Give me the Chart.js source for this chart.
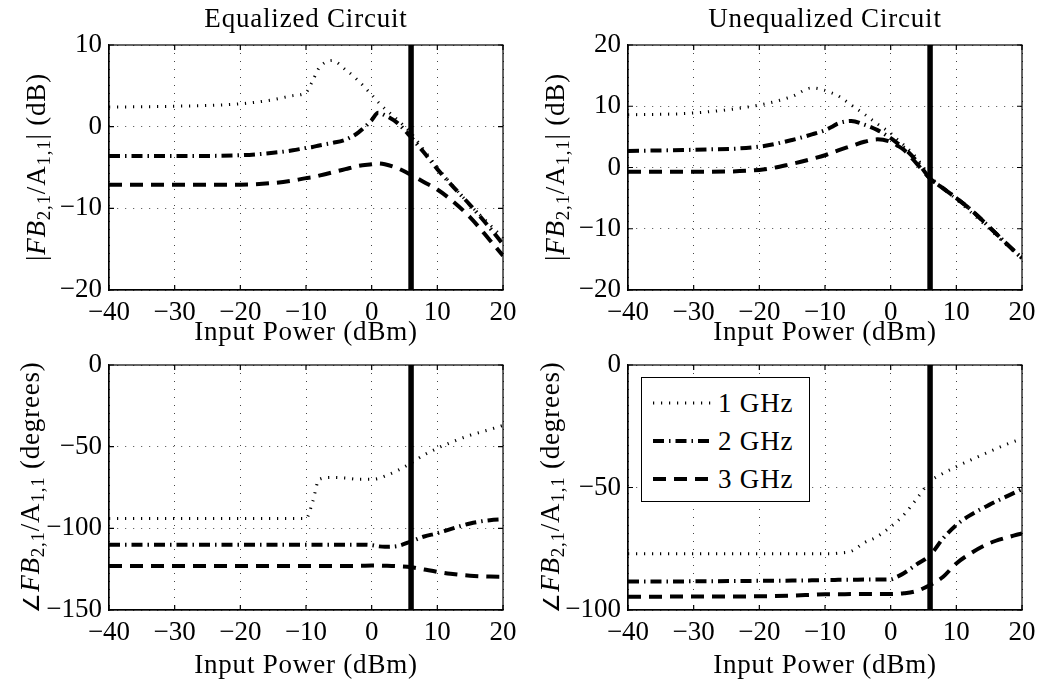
<!DOCTYPE html>
<html><head><meta charset="utf-8">
<script src="https://cdn.jsdelivr.net/npm/chart.js@4"></script>
<style>
html,body{margin:0;padding:0;background:#fff;overflow:hidden;width:1039px;height:679px;}
.t{position:absolute;font-family:"Liberation Serif",serif;font-size:27px;color:#000;white-space:nowrap;transform:translate(-50%,-50%);line-height:1;letter-spacing:0.8px;}
.yl{transform:translate(-50%,-50%) rotate(-90deg);}
.ang{font-size:0.8em;}
canvas.ch{position:absolute;}
sub{font-size:0.7em;vertical-align:-0.3em;line-height:0;}
#legend{position:absolute;left:641px;top:377px;width:169px;height:125px;border:1.5px solid #000;box-sizing:border-box;background:#fff;font-family:"Liberation Serif",serif;font-size:27px;}
.lrow{position:absolute;left:0;width:100%;height:30px;}
.lrow canvas{position:absolute;left:11px;top:9px;}
.lrow span{position:absolute;left:76px;top:0;line-height:30px;letter-spacing:0.8px;}
</style></head><body>
<canvas class="ch" id="c1"></canvas>
<canvas class="ch" id="c2"></canvas>
<canvas class="ch" id="c3"></canvas>
<canvas class="ch" id="c4"></canvas>
<div class="t" style="left:306px;top:18px">Equalized Circuit</div>
<div class="t" style="left:825px;top:18px">Unequalized Circuit</div>
<div class="t" style="left:306px;top:331px">Input Power (dBm)</div>
<div class="t" style="left:825px;top:331px">Input Power (dBm)</div>
<div class="t" style="left:306px;top:664px">Input Power (dBm)</div>
<div class="t" style="left:825px;top:664px">Input Power (dBm)</div>
<div class="t yl" style="left:36px;top:167px">|<i>FB</i><sub>2,1</sub>/A<sub>1,1</sub>| (dB)</div>
<div class="t yl" style="left:555px;top:167px">|<i>FB</i><sub>2,1</sub>/A<sub>1,1</sub>| (dB)</div>
<div class="t yl" style="left:30px;top:487px"><span class="ang">∠</span><i>FB</i><sub>2,1</sub>/A<sub>1,1</sub> (degrees)</div>
<div class="t yl" style="left:550px;top:487px"><span class="ang">∠</span><i>FB</i><sub>2,1</sub>/A<sub>1,1</sub> (degrees)</div>
<div id="legend"></div>
<script>
// ---- data ----
const powerIn = [-40,-30,-20,-15,-12,-10,-9,-8,-6,-4,-2,0,1,2,4,6,8,10,12,15,18,20];
const seriesLabels = ['1 GHz','2 GHz','3 GHz'];
const markerPower = 6;

// Equalized |FB21/A11| (dB)
const eqMag1 = [2.4,2.5,2.8,3.3,3.8,4.2,5.6,7.2,8.1,7.0,5.6,3.9,3.0,2.2,0.8,-0.8,-2.9,-5.0,-6.9,-9.6,-12.0,-13.6];
const eqMag2 = [-3.6,-3.6,-3.5,-3.2,-2.9,-2.6,-2.5,-2.3,-2.0,-1.6,-0.7,0.8,1.7,1.4,0.4,-1.3,-3.2,-5.2,-7.0,-9.6,-12.4,-14.4];
const eqMag3 = [-7.1,-7.1,-7.1,-6.9,-6.6,-6.3,-6.2,-6.0,-5.6,-5.2,-4.8,-4.6,-4.5,-4.6,-5.1,-5.9,-6.8,-7.7,-8.9,-11.1,-13.9,-15.8];
// Unequalized |FB21/A11| (dB)
const unMag1 = [8.6,8.9,10.2,11.6,13.0,12.6,12.2,11.7,10.2,8.7,7.1,5.6,4.6,3.7,1.5,-1.5,-3.4,-5.2,-7.1,-10.0,-13.0,-14.9];
const unMag2 = [2.7,2.9,3.4,4.5,5.4,6.1,6.6,7.2,7.6,7.0,6.1,4.8,4.0,3.2,1.0,-1.8,-3.4,-5.0,-6.7,-9.7,-12.8,-14.8];
const unMag3 = [-0.7,-0.7,-0.4,0.6,1.4,2.0,2.4,2.8,3.5,4.2,4.6,4.2,3.6,2.9,0.6,-1.8,-3.4,-5.0,-6.7,-9.7,-12.8,-14.8];
// Equalized angle (degrees)
const eqAng1 = [-94,-94,-94,-94,-94,-94,-84,-70,-68.8,-69.2,-70,-70,-69.5,-68,-64.5,-60,-55,-51,-47.5,-43,-39.5,-37];
const eqAng2 = [-110,-110,-110,-110,-110,-110,-110,-110,-110,-110,-110,-110.3,-111,-111.3,-110.8,-108,-105,-103,-100.5,-97,-95,-94.5];
const eqAng3 = [-123,-123,-123,-123,-123,-123,-123,-123,-123,-123,-123,-122.8,-122.8,-122.9,-123.2,-123.8,-125.2,-126.6,-127.8,-129,-129.5,-129.6];
// Unequalized angle (degrees)
const unAng1 = [-77,-77,-77,-77,-77,-77,-77,-76.8,-76,-72.5,-70,-66,-63.8,-61.2,-54.5,-47.6,-44.2,-41.5,-39,-35.4,-32,-30];
const unAng2 = [-88.4,-88.3,-88.1,-88,-87.9,-87.8,-87.8,-87.7,-87.7,-87.6,-87.6,-87.5,-86.4,-85,-81.3,-77.6,-70.7,-65.3,-61.5,-57.1,-53.2,-50.7];
const unAng3 = [-94.6,-94.5,-94.4,-94.1,-93.8,-93.6,-93.6,-93.6,-93.5,-93.5,-93.5,-93.5,-93.4,-93.2,-92.2,-89.8,-86.4,-81,-77.2,-72.8,-70.2,-68.7];

// ---- styles ----
const styles = [
  {borderWidth:3, borderDash:[1.2,6.8]},
  {borderWidth:4, borderDash:[11,5,1.5,5]},
  {borderWidth:4, borderDash:[13,8]}
];
const FONT = {family:'"Liberation Serif", serif', size:27};
const fmt = v => v < 0 ? '\u2212' + Math.abs(v) : String(v);
const YW = 70, XH = 40, PT = 24, PR = 24;

const boxPlugin = {
  id:'box',
  afterDatasetsDraw(chart){
    const {ctx, chartArea:a, scales:{x, y}} = chart;
    ctx.save();
    ctx.strokeStyle = '#000'; ctx.lineWidth = 1.2; ctx.setLineDash([]);
    ctx.strokeRect(a.left, a.top, a.right - a.left, a.bottom - a.top);
    ctx.beginPath();
    x.ticks.forEach(t => { const p = x.getPixelForValue(t.value);
      ctx.moveTo(p, a.bottom); ctx.lineTo(p, a.bottom - 5); ctx.moveTo(p, a.top); ctx.lineTo(p, a.top + 5); });
    y.ticks.forEach(t => { const p = y.getPixelForValue(t.value);
      ctx.moveTo(a.left, p); ctx.lineTo(a.left + 5, p); ctx.moveTo(a.right, p); ctx.lineTo(a.right - 5, p); });
    ctx.stroke();
    ctx.restore();
  }
};

function makeChart(id, areaLeft, areaTop, areaW, areaH, yMin, yMax, yStep, values){
  const cv = document.getElementById(id);
  cv.width = YW + areaW + PR; cv.height = PT + areaH + XH;
  cv.style.left = (areaLeft - YW) + 'px'; cv.style.top = (areaTop - PT) + 'px';
  const datasets = values.map((vals, i) => ({
    label: seriesLabels[i],
    data: powerIn.map((p, j) => ({x: p, y: vals[j]})),
    borderColor: '#000', borderWidth: styles[i].borderWidth, borderDash: styles[i].borderDash,
    borderCapStyle: 'butt', pointRadius: 0, cubicInterpolationMode: 'monotone', fill: false, order: 1
  }));
  datasets.push({label: 'marker', data: [{x: markerPower, y: yMin}, {x: markerPower, y: yMax}],
    borderColor: '#000', borderWidth: 5.5, pointRadius: 0, borderCapStyle: 'butt', order: 0});
  new Chart(cv, {
    type: 'line',
    data: {datasets},
    plugins: [boxPlugin],
    options: {
      responsive: false, animation: false, events: [],
      layout: {padding: {top: PT, right: PR, left: 0, bottom: 0}},
      plugins: {legend: {display: false}, tooltip: {enabled: false}},
      scales: {
        x: {type: 'linear', min: -40, max: 20,
          ticks: {stepSize: 10, font: FONT, color: '#000', padding: 7, callback: fmt, maxRotation: 0, autoSkip: false},
          grid: {color: '#444', lineWidth: 1, drawTicks: false},
          border: {display: true, color: '#000', width: 1.2, dash: [1, 7]},
          afterFit: s => { s.height = XH; }},
        y: {type: 'linear', min: yMin, max: yMax,
          ticks: {stepSize: yStep, font: FONT, color: '#000', padding: 7, callback: fmt, autoSkip: false},
          grid: {color: '#444', lineWidth: 1, drawTicks: false},
          border: {display: true, color: '#000', width: 1.2, dash: [1, 7]},
          afterFit: s => { s.width = YW; }}
      }
    }
  });
}

makeChart('c1', 109, 45, 394, 245, -20, 10, 10, [eqMag1, eqMag2, eqMag3]);
makeChart('c2', 628, 45, 394, 245, -20, 20, 10, [unMag1, unMag2, unMag3]);
makeChart('c3', 109, 365, 394, 245, -150, 0, 50, [eqAng1, eqAng2, eqAng3]);
makeChart('c4', 628, 365, 394, 245, -100, 0, 50, [unAng1, unAng2, unAng3]);

// ---- legend ----
const lg = document.getElementById('legend');
const rowCenters = [25, 63, 101];
seriesLabels.forEach((lab, i) => {
  const row = document.createElement('div'); row.className = 'lrow';
  row.style.top = (rowCenters[i] - 15) + 'px';
  const c = document.createElement('canvas'); c.width = 60; c.height = 12;
  const g = c.getContext('2d');
  g.strokeStyle = '#000'; g.lineWidth = styles[i].borderWidth; g.lineCap = 'butt';
  g.setLineDash(styles[i].borderDash);
  g.beginPath(); g.moveTo(0, 6); g.lineTo(60, 6); g.stroke();
  const sp = document.createElement('span'); sp.textContent = lab;
  row.appendChild(c); row.appendChild(sp); lg.appendChild(row);
});
</script>
</body></html>
